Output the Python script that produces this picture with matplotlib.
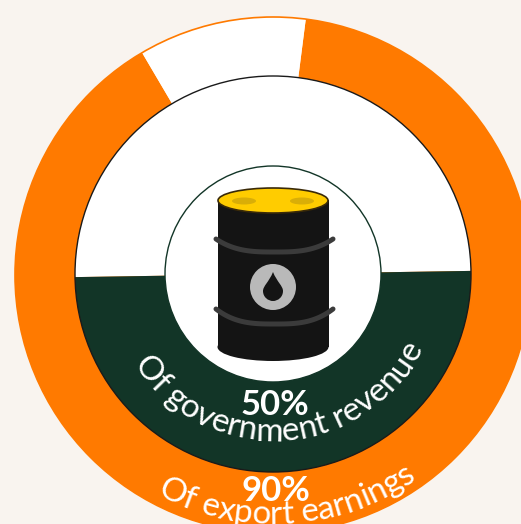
import numpy as np
import matplotlib
matplotlib.use("Agg")
import matplotlib.pyplot as plt
from matplotlib.patches import Circle, Ellipse, Polygon, PathPatch
from matplotlib.path import Path
from matplotlib.textpath import TextPath
from matplotlib.font_manager import FontProperties

W, H = 521, 524

# ring shares
export_vals = [89.5, 10.5]
revenue_vals = [50, 50]
export_pct = "90%"
revenue_pct = "50%"
export_label = "Of export earnings"
revenue_label = "Of government revenue"

ORANGE = "#ff7a00"
GREEN = "#123527"
BG = "#f9f4ef"

fig = plt.figure(figsize=(W / 100, H / 100), dpi=100, facecolor=BG)
ax = fig.add_axes([0, 0, 1, 1])


def py(y):
    # picture y (from the top) to axes y
    return H - y


cx, cy = 273, py(274)

# outer ring
ax.pie(export_vals, colors=[ORANGE, "white"], startangle=120.5,
       radius=258, center=(cx, py(275)), frame=False,
       wedgeprops={"linewidth": 0})
ax.add_patch(Circle((cx, py(275)), 258, fc="none", ec=ORANGE, lw=1.2, zorder=2))

# inner disc, half white half green
ax.pie(revenue_vals, colors=["white", GREEN], startangle=0.9,
       radius=198, center=(cx, cy), frame=False, wedgeprops={"linewidth": 0})
ax.add_patch(Circle((cx, cy), 198, fc="none", ec="#1a1a1a", lw=1.0, zorder=3))

# hole
ax.add_patch(Circle((cx, cy), 108, fc="white", ec=GREEN, lw=1.0, zorder=4))
ax.set_xlim(0, W)
ax.set_ylim(0, H)
ax.set_aspect("auto")
ax.axis("off")

# barrel
BLACK = "#141414"
ax.add_patch(Ellipse((273, py(347)), 111, 28, fc=BLACK, ec="none", zorder=5))
ax.add_patch(Polygon([(218, py(200)), (328.5, py(200)), (328.5, py(347)), (218, py(347))],
                     fc=BLACK, ec="none", zorder=5))
ax.add_patch(Ellipse((273, py(200.5)), 110, 25, fc="#ffcc00", ec="#3a2a08", lw=1.2, zorder=6))
for ex in (244, 302):
    ax.add_patch(Ellipse((ex, py(201)), 24, 7, fc="#d9ae07", ec="none", zorder=7))

for top, dip in ((239, 252), (309, 324)):
    t = np.linspace(-1, 1, 60)
    ax.plot(216 + (t + 1) * 58.5, py(top) - (dip - top) * (1 - np.abs(t) ** 3), color="#3b3b3b",
            lw=3.6, solid_capstyle="round", zorder=7)

ax.add_patch(Circle((273, py(287)), 23, fc="#b9b9b9", ec="none", zorder=7))
drop = Path([(273, py(272)), (277, py(282)), (283, py(286)), (283, py(291)),
             (283, py(297)), (278, py(301)), (273, py(301)),
             (268, py(301)), (263, py(297)), (263, py(291)),
             (263, py(286)), (269, py(282)), (273, py(272))],
            [Path.MOVETO] + [Path.CURVE4] * 12)
ax.add_patch(PathPatch(drop, fc=BLACK, ec="none", zorder=8))


def arc_text(s, radius, mid_deg, size, center=(cx, cy), family="Lato", spacing=0.0):
    # letters along the bottom of a circle, tops towards the centre, reading left to right
    fp = FontProperties(family=family, size=size)
    scale = 100 / 72
    tx = TextPath((0, 0), "xx", prop=fp).get_extents().width
    adv = []
    for ch in s:
        tp = TextPath((0, 0), "x" + ch + "x", prop=fp).get_extents().width
        adv.append((tp - tx) * scale + spacing)
    pos = -sum(adv) / 2
    for ch, a in zip(s, adv):
        ang = (pos + a / 2) / radius + np.radians(mid_deg)  # radians right of bottom
        x = center[0] + radius * np.sin(ang)
        y = center[1] - radius * np.cos(ang)
        ax.text(x, y, ch, rotation=np.degrees(ang), rotation_mode="anchor", ha="center",
                va="baseline", color="white", fontproperties=fp, zorder=9)
        pos += a


arc_text(revenue_label, 167, 3.3, 24)
arc_text(export_label, 249, 3.6, 24, center=(cx, py(275)))

ax.text(275, py(415), revenue_pct, color="white", fontsize=25, fontweight="bold", family="Lato",
        ha="center", va="baseline", zorder=9)
ax.text(276, py(501), export_pct, color="white", fontsize=25, fontweight="bold", family="Lato",
        ha="center", va="baseline", zorder=9)

fig.savefig("out.png", dpi=100, facecolor=BG)
